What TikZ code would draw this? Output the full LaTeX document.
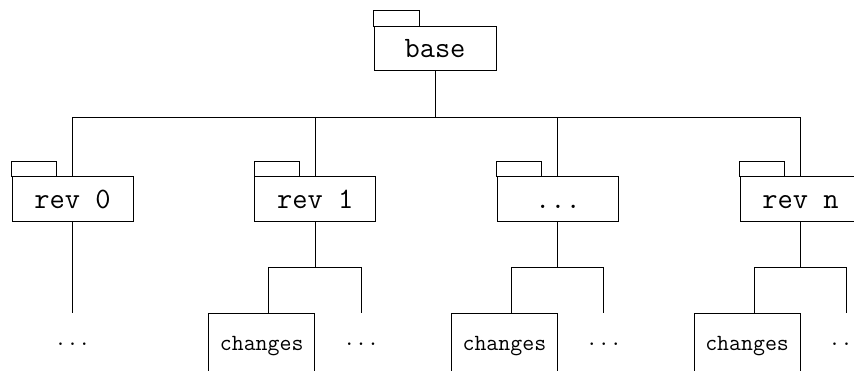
\documentclass[tikz,border=0pt]{standalone}
\usetikzlibrary{positioning}

\newcommand\revfont{\fontsize{29.6}{34}\selectfont\ttfamily}
\newcommand\chfont{\fontsize{23.2}{27}\selectfont\ttfamily}

\begin{document}
\begin{tikzpicture}[
		x = 1pt, y = 1pt,
		line width = 1pt, % line style
		node distance = 120.7pt, % gap between folders
		folder/.style = {draw, rectangle, minimum width = 121pt, minimum height = 45pt,
			inner sep = 0pt, text height = 18pt, text depth = 0pt, font = \revfont},
		changes/.style = {draw, rectangle, minimum width = 106pt, minimum height = 64pt,
			inner sep = 0pt, font = \chfont},
		moredots/.style = {inner sep = 0pt, text height = 31.5pt, text depth = 0pt, font = \chfont}
		]
		
		\useasboundingbox (0,0) rectangle (854,371);
		\clip (0,0) rectangle (854,371);
		
		% folders
		\node[folder, minimum width = 122pt, minimum height = 44pt] (base) at (435,322) {base\ };
		\node[folder] (rev0) at (72.5,171.5) {rev 0\ };
		\node[folder] (rev1) [right=of rev0] {rev 1\ };
		\node[folder] (revd) [right=of rev1] {...};
		\node[folder] (revn) [right=of revd] {rev n\ };
		
		% folder tabs
		\draw (base.north west) rectangle ++(46,16);
		\draw (rev0.north west) rectangle ++(45,15);
		\draw (rev1.north west) rectangle ++(45,15);
		\draw (revd.north west) rectangle ++(45,15);
		\draw (revn.north west) rectangle ++(45,15);
		
		% second level
		\node[changes, anchor=north east] (ch1) at ([yshift=-91pt]rev1.south) {changes};
		\node[changes, anchor=north east] (chd) at ([yshift=-91pt]revd.south) {changes};
		\node[changes, anchor=north east] (chn) at ([yshift=-91pt]revn.south) {changes};
		
		\node[moredots, below=91pt of rev0.south] (m0) {...};
		\node[moredots, anchor=north] (m1) at ([xshift=46pt]ch1.north east) {...};
		\node[moredots, anchor=north] (md) at ([xshift=46pt]chd.north east) {...};
		\node[moredots, anchor=north] (mn) at ([xshift=46pt]chn.north east) {...};
		
		% junctions
		\coordinate[below=46pt of base.south] (hub);
		\coordinate[below=45pt of rev1.south] (j1);
		\coordinate[below=45pt of revd.south] (jd);
		\coordinate[below=45pt of revn.south] (jn);
		
		% tree lines
		\draw (base) -- (hub);
		\draw (hub) -| (rev0);
		\draw (hub) -| (rev1);
		\draw (hub) -| (revd);
		\draw (hub) -| (revn);
		
		\draw (rev0) -- (m0);
		\draw (rev1) -- (j1) -| ([xshift=7pt]ch1.north);
		\draw (j1) -| (m1);
		\draw (revd) -- (jd) -| ([xshift=7pt]chd.north);
		\draw (jd) -| (md);
		\draw (revn) -- (jn) -| ([xshift=7pt]chn.north);
		\draw (jn) -| (mn);
	\end{tikzpicture}
\end{document}
